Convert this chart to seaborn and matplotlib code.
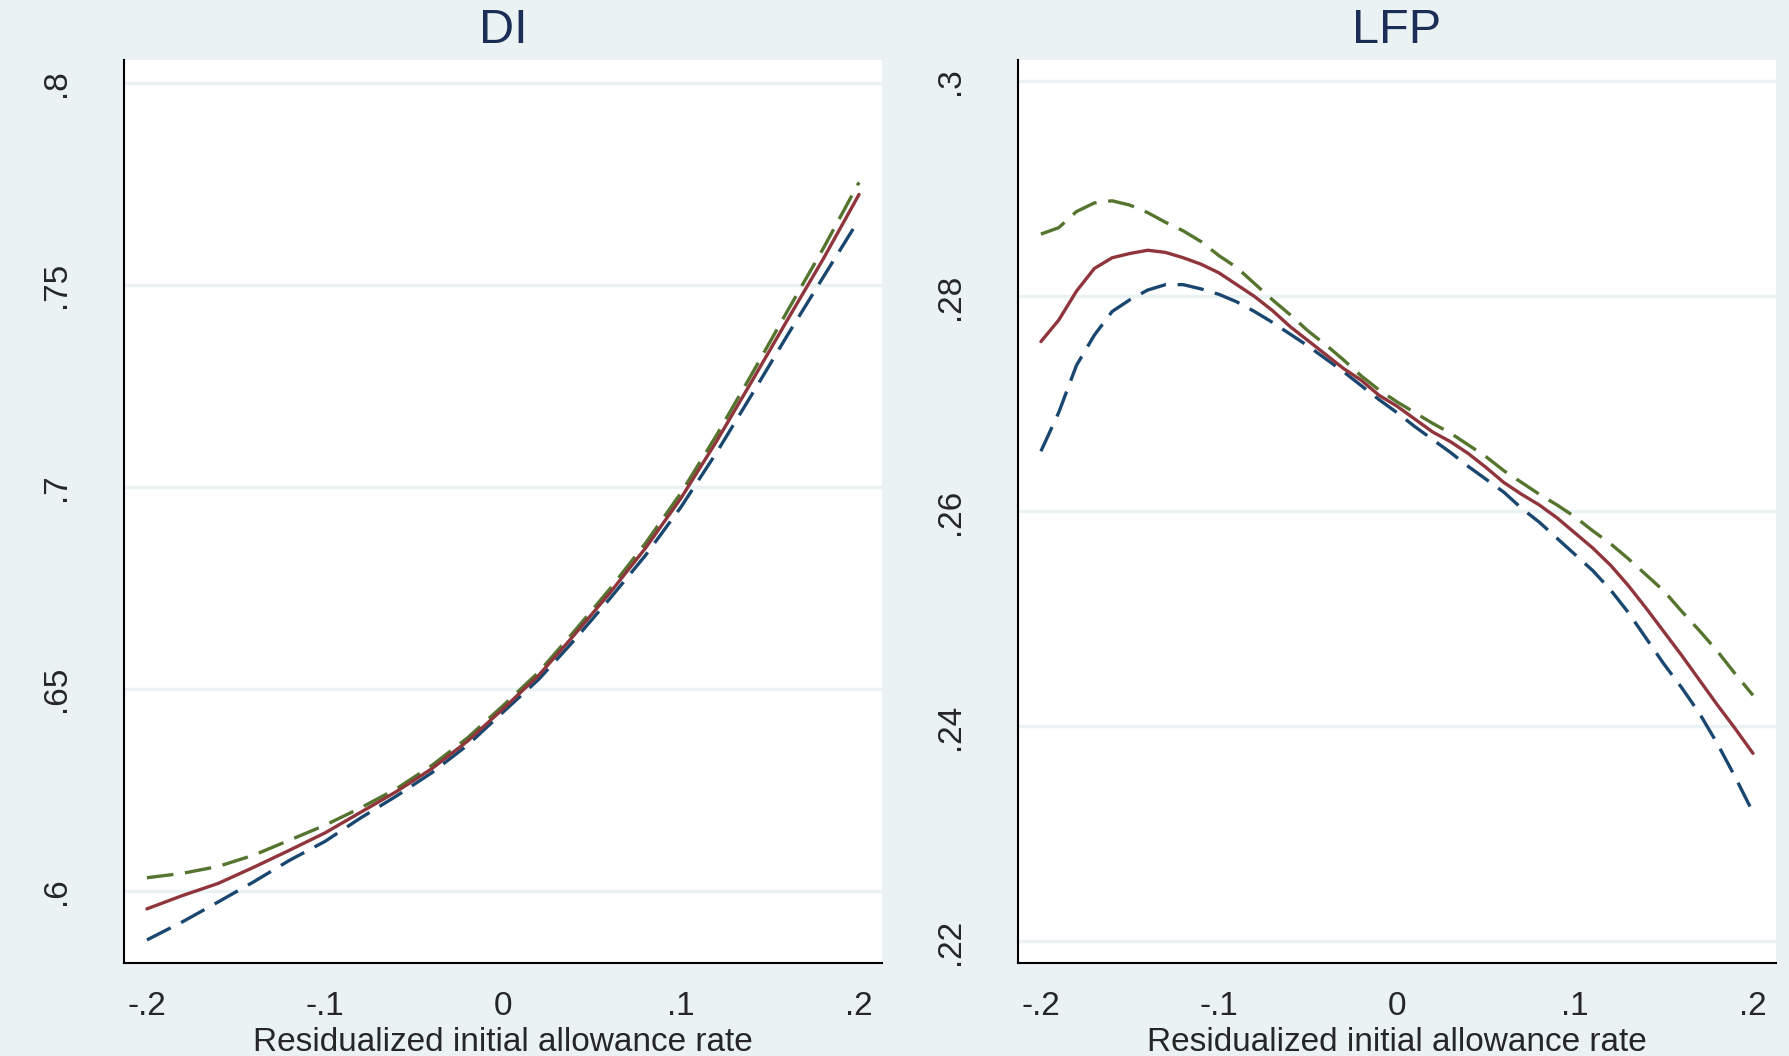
import numpy as np
import pandas as pd
import matplotlib.pyplot as plt
import seaborn as sns

# Datos
x_di = [-0.20, -0.18, -0.16, -0.14, -0.12, -0.10, -0.08, -0.06, -0.04, -0.02, 0.00,
        0.02, 0.04, 0.06, 0.08, 0.10, 0.12, 0.14, 0.16, 0.18, 0.20]
di_mid = [.5955, .5988, .6018, .6058, .6100, .6143, .6194, .6245, .6302, .6370, .6450,
          .6533, .6633, .6737, .6848, .6972, .7113, .7263, .7415, .7565, .7724]
di_upper = [.6032, .6043, .6060, .6088, .6125, .6162, .6205, .6252, .6310, .6378, .6458,
            .6541, .6642, .6747, .6860, .6985, .7128, .7281, .7437, .7591, .7754]
di_lower = [.5878, .5923, .5972, .6022, .6075, .6122, .6180, .6234, .6292, .6360, .6442,
            .6523, .6620, .6723, .6830, .6950, .7085, .7230, .7377, .7520, .7662]

x_lfp = [-0.20, -0.19, -0.18, -0.17, -0.16, -0.15, -0.14, -0.13, -0.12, -0.11, -0.10,
         -0.09, -0.08, -0.07, -0.06, -0.05, -0.04, -0.03, -0.02, -0.01, 0.00,
         0.01, 0.02, 0.03, 0.04, 0.05, 0.06, 0.07, 0.08, 0.09, 0.10,
         0.11, 0.12, 0.13, 0.14, 0.15, 0.16, 0.17, 0.18, 0.19, 0.20]
lfp_mid = [.2758, .2778, .2805, .2826, .2836, .2840, .2843, .2841, .2836, .2830, .2822,
           .2811, .2800, .2787, .2772, .2759, .2746, .2733, .2722, .2708, .2698,
           .2686, .2674, .2665, .2654, .2641, .2627, .2616, .2606, .2594, .2580,
           .2566, .2550, .2531, .2510, .2488, .2466, .2443, .2420, .2398, .2375]
lfp_upper = [.2858, .2864, .2879, .2887, .2889, .2885, .2878, .2869, .2861, .2851, .2838,
             .2827, .2812, .2797, .2783, .2768, .2755, .2741, .2726, .2713, .2702,
             .2692, .2682, .2673, .2662, .2651, .2638, .2627, .2616, .2606, .2595,
             .2582, .2570, .2556, .2541, .2526, .2507, .2489, .2470, .2449, .2429]
lfp_lower = [.2656, .2692, .2736, .2764, .2786, .2797, .2806, .2811, .2811, .2807, .2802,
             .2795, .2786, .2776, .2765, .2754, .2742, .2730, .2717, .2704, .2692,
             .2679, .2667, .2655, .2642, .2630, .2618, .2603, .2590, .2575, .2560,
             .2545, .2527, .2506, .2482, .2458, .2436, .2412, .2384, .2353, .2320]

x_ticks = [-0.2, -0.1, 0.0, 0.1, 0.2]
x_tick_labels = ['-.2', '-.1', '0', '.1', '.2']
di_ticks = [0.6, 0.65, 0.7, 0.75, 0.8]
di_tick_labels = ['.6', '.65', '.7', '.75', '.8']
lfp_ticks = [0.22, 0.24, 0.26, 0.28, 0.30]
lfp_tick_labels = ['.22', '.24', '.26', '.28', '.3']

# Colores estilo Stata s2color
BG = '#EAF2F3'
TITLE = '#1C2D56'
NAVY = '#1A476F'
MAROON = '#90353B'
GREEN = '#55752F'

sns.set_style('white')
plt.rcParams['font.family'] = ['Liberation Sans', 'DejaVu Sans']

fig = plt.figure(figsize=(17.89, 10.56), dpi=100, facecolor=BG)
ax1 = fig.add_axes([0.0693, 0.0881, 0.4237, 0.8551])
ax2 = fig.add_axes([0.5690, 0.0881, 0.4237, 0.8551])

dash = (0, (8, 3.5))


def draw_panel(ax, x, mid, upper, lower, title, yticks, ylabels, ylim):
    sns.lineplot(x=x, y=lower, ax=ax, color=NAVY, linewidth=2.4, linestyle=dash)
    sns.lineplot(x=x, y=upper, ax=ax, color=GREEN, linewidth=2.4, linestyle=dash)
    sns.lineplot(x=x, y=mid, ax=ax, color=MAROON, linewidth=2.4)

    ax.set_facecolor('white')
    ax.set_xlim(-0.2129, 0.2129)
    ax.set_ylim(*ylim)
    ax.set_xticks(x_ticks)
    ax.set_xticklabels(x_tick_labels, fontsize=24)
    ax.set_yticks(yticks)
    ax.set_yticklabels(ylabels, fontsize=24, rotation=90, va='center')
    ax.yaxis.grid(True, color=BG, linewidth=2.5)
    ax.set_axisbelow(True)

    for side in ['top', 'right']:
        ax.spines[side].set_visible(False)
    for side in ['left', 'bottom']:
        ax.spines[side].set_color('black')
        ax.spines[side].set_linewidth(1.5)

    ax.tick_params(axis='both', direction='out', length=10, width=1.4, color='black')
    ax.tick_params(axis='y', pad=27.5)
    ax.tick_params(axis='x', pad=10.5)
    ax.set_xlabel('Residualized initial allowance rate', fontsize=24, labelpad=3)
    ax.set_ylabel('')
    ax.set_title(title, fontsize=35, color=TITLE, pad=12)


draw_panel(ax1, x_di, di_mid, di_upper, di_lower, 'DI',
           di_ticks, di_tick_labels, (0.5821, 0.8057))
draw_panel(ax2, x_lfp, lfp_mid, lfp_upper, lfp_lower, 'LFP',
           lfp_ticks, lfp_tick_labels, (0.2180, 0.3020))

fig.savefig('out.png', dpi=100, facecolor=BG)
